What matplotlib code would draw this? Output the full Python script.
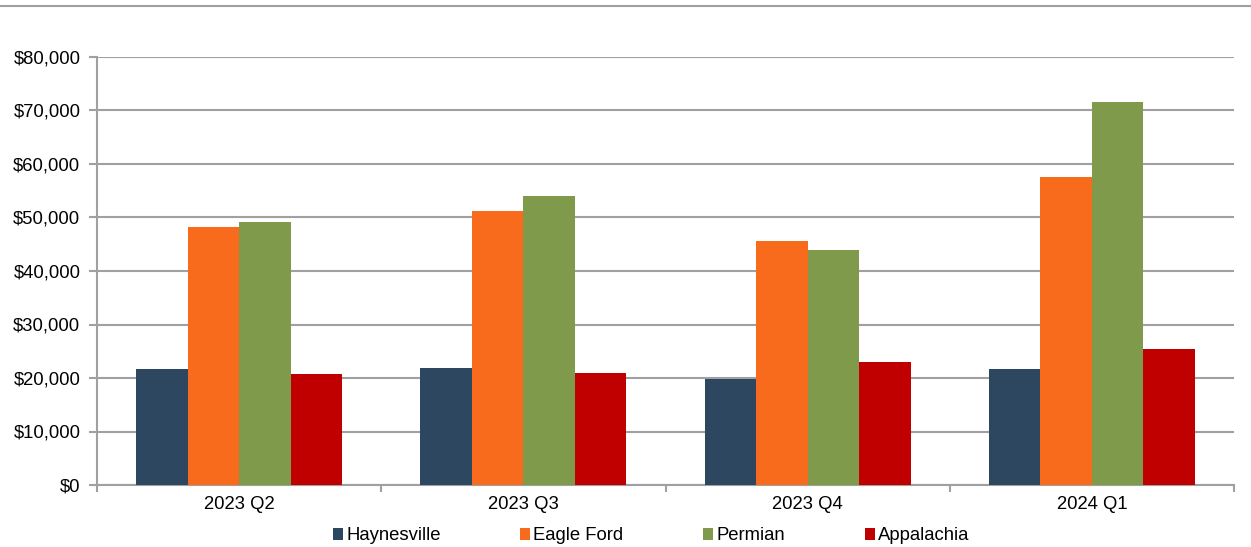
import matplotlib
matplotlib.use("Agg")
import matplotlib.pyplot as plt
import numpy as np
from matplotlib.lines import Line2D
from matplotlib.patches import Patch

plt.rcParams['font.family'] = ['Liberation Sans', 'DejaVu Sans']

categories = ["2023 Q2", "2023 Q3", "2023 Q4", "2024 Q1"]
series_names = ["Haynesville", "Eagle Ford", "Permian", "Appalachia"]
haynesville = [21700, 21800, 19800, 21600]
eagle_ford = [48200, 51200, 45700, 57600]
permian = [49200, 54000, 43900, 71600]
appalachia = [20800, 21000, 23000, 25500]
colors = ["#2E4760", "#F86B1D", "#7F9A4A", "#C00000"]
yticks = list(range(0, 80001, 10000))

FS = 13.3

fig = plt.figure(figsize=(12.51, 5.47), dpi=100)
ax = fig.add_axes([97/1251, 1-485/547, (1234-97)/1251, (485-57)/547])

x = np.arange(len(categories))
bw = 0.181
data = [haynesville, eagle_ford, permian, appalachia]
for i, (vals, c) in enumerate(zip(data, colors)):
    ax.bar(x + (i - 1.5) * bw, vals, bw, color=c, zorder=3, linewidth=0)

ax.set_xlim(-0.5, len(categories) - 0.5)
ax.set_ylim(0, 80000)
ax.set_yticks(yticks)
ax.set_yticklabels([f"${v:,.0f}" for v in yticks], fontsize=FS)
ax.yaxis.grid(True, color="#A0A0A0", linewidth=1.5, zorder=0)
ax.set_xticks(x)
ax.set_xticklabels(categories, fontsize=FS)
ax.tick_params(axis='x', length=0, pad=8)
ax.set_xticks(np.arange(-0.5, len(categories)), minor=True)
ax.tick_params(axis='x', which='minor', length=5, color="#A0A0A0", width=1.5)
ax.tick_params(axis='y', length=6, color="#A0A0A0", width=1.5, pad=6)
for s in ['top', 'right']:
    ax.spines[s].set_visible(False)
for s in ['left', 'bottom']:
    ax.spines[s].set_color("#A0A0A0")
    ax.spines[s].set_linewidth(1.5)

handles = [Patch(facecolor=c, edgecolor='none') for c in colors]
fig.legend(handles, series_names, loc='center', bbox_to_anchor=(651/1251, 1-536/547),
           ncol=4, frameon=False, fontsize=FS, handlelength=0.55, handleheight=0.55,
           handletextpad=0.18, columnspacing=4.3)

fig.add_artist(Line2D([0, 1], [1-6/547, 1-6/547], color="#A0A0A0", linewidth=1.5))

fig.savefig("out.png", dpi=100)
